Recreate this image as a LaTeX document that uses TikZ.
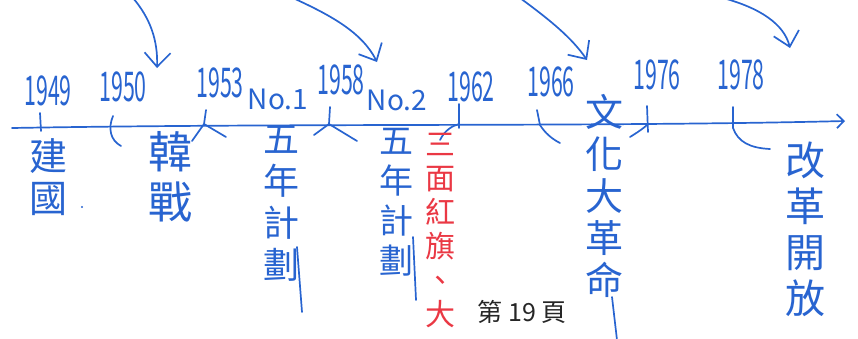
\documentclass[tikz,border=0pt]{standalone}
\usepackage{fontspec}
\usetikzlibrary{arrows.meta}
\newfontfamily\cjk{Noto Sans CJK TC}
\newfontfamily\cjknum{Noto Sans CJK TC}[FakeStretch=0.52]
\definecolor{inkblue}{RGB}{40,100,208}
\definecolor{inkred}{RGB}{234,56,68}
\tikzset{
  stroke/.style={inkblue, line width=1.7pt, line cap=round, line join=round},
  flow/.style={stroke, -{Straight Barb[length=14pt,width=26pt,line width=1.7pt]}},
  year/.style={text=inkblue, font=\cjknum\fontsize{41}{41}\selectfont, inner sep=0pt},
  plan/.style={text=inkblue, font=\cjk\fontsize{28}{28}\selectfont, inner sep=0pt},
  evt/.style n args={2}{text=inkblue, font=\cjk\fontsize{#1}{#2}\selectfont,
    align=center, inner sep=0pt, anchor=north},
}
\begin{document}
\begin{tikzpicture}[x=1pt,y=-1pt]
\useasboundingbox (0,0) rectangle (858,338);
% time axis
\coordinate (axisL) at (12,128);
\coordinate (axisR) at (845,121);
\draw [stroke, -{Straight Barb[length=7pt,width=14pt,line width=1.7pt]}] (axisL) .. controls (300,123) and (600,127) .. (axisR);
% years
\node[year] (y1949) at (48,91) {1949};
\node[year] (y1950) at (123,87) {1950};
\node[year] (y1953) at (220,83) {1953};
\node[plan] (no1) at (278,99) {No.1};
\node[year] (y1958) at (341,80) {1958};
\node[plan] (no2) at (397,100) {No.2};
\node[year] (y1962) at (471,87) {1962};
\node[year] (y1966) at (551,82) {1966};
\node[year] (y1976) at (657,75) {1976};
\node[year] (y1978) at (741,75) {1978};
% marks on the axis
\draw [stroke] (40,113) -- (41,131);
\draw [stroke] (113,116) .. controls (108,128) and (110,140) .. (121,146);
\draw [stroke] (206,110) -- (204,124) -- (192,141) (204,124) -- (226,137);
\draw [stroke] (330,107) -- (329,124) -- (314,135) (329,124) -- (357,141);
\draw [stroke] (459,104) -- (459,128);
\draw [stroke] (440,140) .. controls (445,130) and (452,126) .. (459,124);
\draw [stroke] (537,110) -- (540,125) .. controls (545,133) and (552,139) .. (560,143);
\draw [stroke] (647,106) -- (648,132);
\draw [stroke] (630,137) .. controls (638,132) and (644,128) .. (648,124);
\draw [stroke] (733,107) -- (733,128) .. controls (738,142) and (750,148) .. (770,149);
% arrows from above
\coordinate (k1) at (133,-2); \coordinate (k1e) at (157,68);
\coordinate (k2) at (293,-2); \coordinate (k2e) at (377,62);
\coordinate (k3) at (520,-2); \coordinate (k3e) at (587,60);
\coordinate (k4) at (723,-2); \coordinate (k4e) at (790,48);
\draw [flow] (k1) .. controls (150,18) and (158,40) .. (k1e);
\draw [flow] (k2) .. controls (330,15) and (362,32) .. (k2e);
\draw [flow] (k3) .. controls (550,20) and (572,38) .. (k3e);
\draw [flow] (k4) .. controls (760,8) and (784,24) .. (k4e);
% events
\node[evt={38}{42}] (jianguo) at (48,138) {建\\國};
\fill [inkblue] (82,207) circle (1.2);
\node[evt={44}{50}] (hanzhan) at (170,131) {韓\\戰};
\node[evt={36}{42}] (plan1) at (281,126) {五\\年\\計\\劃};
\draw [stroke] (297,247) -- (302,312);
\node[evt={34}{40}] (plan2) at (396,128) {五\\年\\計\\劃};
\draw [stroke] (413,237) -- (416,300);
\node[evt={30}{34}, text=inkred] (hongqi) at (440,133) {三\\面\\紅\\旗\\、\\大};
\node[evt={38}{42}] (wenge) at (604,94) {文\\化\\大\\革\\命};
\draw [stroke] (612,297) -- (617,340);
\node[evt={40}{46}] (gaige) at (805,142) {改\\革\\開\\放};
% page number
\node[font=\cjk\fontsize{25}{25}\selectfont, text=black!85] (page) at (522,312) {第 19 頁};
\end{tikzpicture}
\end{document}
